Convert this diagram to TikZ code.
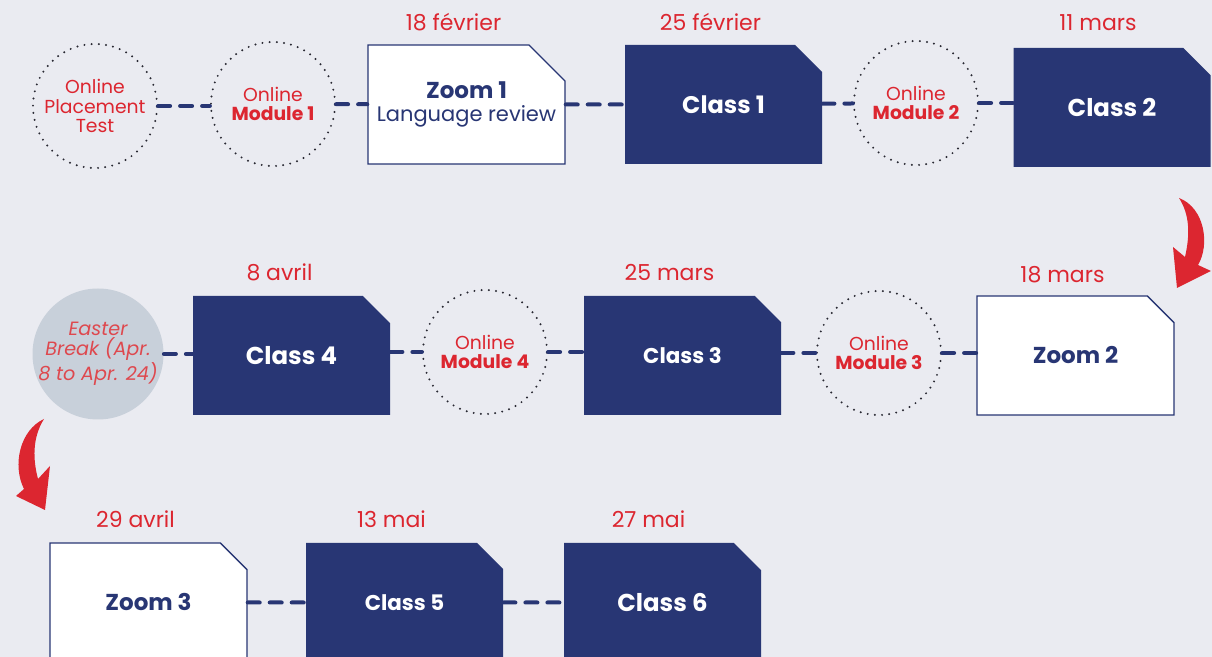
\documentclass[tikz,border=0pt]{standalone}
\usepackage{fontspec}
\setmainfont{Poppins}
\usetikzlibrary{shapes.misc,calc}
\definecolor{bgc}{RGB}{234,235,241}
\definecolor{navy}{RGB}{40,54,116}
\definecolor{redc}{RGB}{220,38,48}
\definecolor{dotgrey}{RGB}{40,40,50}
\definecolor{easterfill}{RGB}{200,208,218}
\definecolor{eastertext}{RGB}{222,72,78}
\begin{document}
\begin{tikzpicture}[x=0.5pt,y=-0.5pt,
    online/.style={circle,draw=dotgrey,line width=1.1pt,dash pattern=on 0pt off 3.6pt,line cap=round,
      minimum size=62pt,inner sep=0pt,align=center,text=redc,font=\fontsize{9.4}{9.6}\selectfont},
    classbox/.style={chamfered rectangle,chamfered rectangle corners=north east,chamfered rectangle sep=9pt,
      fill=navy,text=white,minimum width=98.5pt,minimum height=59.5pt,inner sep=0pt,align=center,
      font=\bfseries\fontsize{12.2}{13}\selectfont},
    zoombox/.style={classbox,fill=white,draw=navy,line width=0.7pt,text=navy,
      font=\bfseries\fontsize{11.5}{12}\selectfont},
    smalltxt/.style={font=\bfseries\fontsize{10.7}{11}\selectfont},
    datelbl/.style={text=redc,anchor=base,font=\fontsize{11}{11}\selectfont},
    link/.style={navy,line width=2pt,dash pattern=on 6pt off 5pt,line cap=round}]
\clip (0,0) rectangle (1212,657);
\fill[bgc] (0,0) rectangle (1212,657);

% first row
\node[online] (pt) at (95,106) {Online\\Placement\\Test};
\node[online] (m1) at (273,104) {Online\\\textbf{Module 1}};
\node[zoombox,inner xsep=-14pt,font=\fontsize{10.5}{11.5}\selectfont] (z1) at (466.5,104.5)
  {{\fontsize{11.5}{11.5}\selectfont\bfseries Zoom 1}\\Language review};
\node[classbox,font=\bfseries\fontsize{12}{13}\selectfont] (c1) at (723.5,104.5) {Class 1};
\node[online] (m2) at (916,103) {Online\\\textbf{Module 2}};
\node[classbox] (c2) at (1112,107.5) {Class 2};

% second row
\node[circle,fill=easterfill,minimum size=65.5pt,inner sep=-6pt,align=center,text=eastertext,
  font=\itshape\fontsize{9.6}{10}\selectfont] (ez) at (98,354) {Easter\\Break (Apr.\\8 to Apr. 24)};
\node[classbox] (c4) at (291.5,355.5) {Class 4};
\node[online] (m4) at (485,352) {Online\\\textbf{Module 4}};
\node[classbox,smalltxt] (c3) at (682.5,355.5) {Class 3};
\node[online] (m3) at (879,353) {Online\\\textbf{Module 3}};
\node[zoombox] (z2) at (1075.5,355.5) {Zoom 2};

% third row
\node[zoombox] (z3) at (148.5,602.5) {Zoom 3};
\node[classbox,smalltxt] (c5) at (404.5,602.5) {Class 5};
\node[classbox] (c6) at (662.5,602.5) {Class 6};

% dates
\node[datelbl] (d1) at ($(z1.north)+(-13,-14)$) {18 février};
\node[datelbl] (d2) at ($(c1.north)+(-13,-14)$) {25 février};
\node[datelbl] (d3) at ($(c2.north)+(-14,-17)$) {11 mars};
\node[datelbl] (d4) at ($(c4.north)+(-12,-15)$) {8 avril};
\node[datelbl] (d5) at ($(c3.north)+(-13,-15)$) {25 mars};
\node[datelbl] (d6) at ($(z2.north)+(-13,-13)$) {18 mars};
\node[datelbl] (d7) at ($(z3.north)+(-13,-15)$) {29 avril};
\node[datelbl] (d8) at ($(c5.north)+(-13,-15)$) {13 mai};
\node[datelbl] (d9) at ($(c6.north)+(-14,-15)$) {27 mai};

% connectors
\draw[link] (pt.east) -- (m1.west |- pt.east);
\draw[link] (m1) -- (z1);
\draw[link] (z1) -- (c1);
\draw[link] (c1) -- (m2);
\draw[link] (m2.east) -- (m2.east -| c2.west);
\draw[link] (ez.east) -- (ez.east -| c4.west);
\draw[link] (c4.east |- m4.west) -- (m4.west);
\draw[link] (m4.east) -- (m4.east -| c3.west);
\draw[link] (c3.east |- m3.west) -- (m3.west);
\draw[link] (m3.east) -- (m3.east -| z2.west);
\draw[link] (z3) -- (c5);
\draw[link] (c5) -- (c6);

% red turn arrows
\fill[redc] (1179,198) .. controls (1205,208) and (1210,245) .. (1198,265) -- (1211,271) -- (1177,288)
  -- (1173,247) -- (1185,257) .. controls (1190,235) and (1190,215) .. (1179,198) -- cycle;
\fill[redc] (44,419) .. controls (20,430) and (12,465) .. (24,489) -- (16,496) -- (45,510)
  -- (50,466) -- (38,479) .. controls (33,460) and (32,438) .. (44,419) -- cycle;
\end{tikzpicture}
\end{document}
